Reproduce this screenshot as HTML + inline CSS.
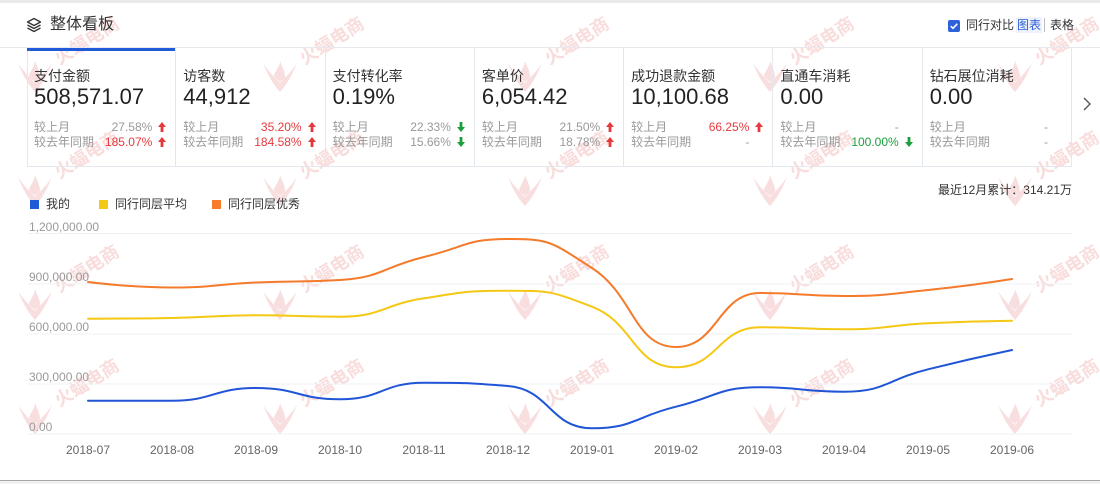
<!DOCTYPE html>
<html><head><meta charset="utf-8">
<style>
*{margin:0;padding:0;box-sizing:border-box}
html,body{width:1100px;height:484px;overflow:hidden;background:#fff}
body{position:relative;font-family:"Liberation Sans","Noto Sans CJK SC",sans-serif;color:#333}
.abs{position:absolute}
.card{position:absolute;top:48px;height:119px;width:149.3px;border-right:1px solid #e3e7ee}
.card .lab{position:absolute;left:7px;top:20px;font-size:14px;line-height:16px;color:#333;white-space:nowrap}
.card .num{position:absolute;left:7px;top:36px;font-size:22px;line-height:26px;color:#222;white-space:nowrap}
.card .r{position:absolute;left:7px;font-size:12px;line-height:15px;color:#999;white-space:nowrap}
.card .v{position:absolute;right:23px;font-size:12px;line-height:15px;color:#999;white-space:nowrap;text-align:right}
.card svg.ar{position:absolute;right:9px;width:8px;height:10px}
.red{color:#e5393e!important}
.green{color:#1a9f3c!important}
.yl{font-size:12px;color:#9a9a9a;line-height:14px;white-space:nowrap}
.xl{font-size:12px;color:#666;line-height:14px;white-space:nowrap;width:60px;text-align:center}
</style></head><body>

<!-- watermark layer -->
<svg class="abs" style="left:0;top:0;z-index:0" width="1100" height="484" viewBox="0 0 1100 484">
<defs>
<g id="wl"><path d="M-17,-14 C-12,-2 -8,6 0,15 C8,6 12,-2 17,-14 C11,-5 6,0 0,5 C-6,0 -11,-5 -17,-14 Z M-6,-2 C-3,-8 0,-12 0,-16 C2,-10 5,-6 5,0 C3,3 1,5 0,6 C-2,4 -5,2 -6,-2 Z" fill="#f8dede"/></g>
</defs>
<g fill="#f9dcdc" font-family="Liberation Sans,Noto Sans CJK SC,sans-serif" font-size="18" font-weight="bold" text-anchor="middle">
<use href="#wl" x="35" y="77"/><use href="#wl" x="280" y="77"/><use href="#wl" x="525" y="77"/><use href="#wl" x="770" y="77"/><use href="#wl" x="1015" y="77"/>
<use href="#wl" x="35" y="191"/><use href="#wl" x="280" y="191"/><use href="#wl" x="525" y="191"/><use href="#wl" x="770" y="191"/><use href="#wl" x="1015" y="191"/>
<use href="#wl" x="35" y="305"/><use href="#wl" x="280" y="305"/><use href="#wl" x="525" y="305"/><use href="#wl" x="770" y="305"/><use href="#wl" x="1015" y="305"/>
<use href="#wl" x="35" y="419"/><use href="#wl" x="280" y="419"/><use href="#wl" x="525" y="419"/><use href="#wl" x="770" y="419"/><use href="#wl" x="1015" y="419"/>
<text transform="translate(90,46) rotate(-32)">火蝠电商</text><text transform="translate(335,46) rotate(-32)">火蝠电商</text><text transform="translate(580,46) rotate(-32)">火蝠电商</text><text transform="translate(825,46) rotate(-32)">火蝠电商</text><text transform="translate(1070,46) rotate(-32)">火蝠电商</text>
<text transform="translate(90,160) rotate(-32)">火蝠电商</text><text transform="translate(335,160) rotate(-32)">火蝠电商</text><text transform="translate(580,160) rotate(-32)">火蝠电商</text><text transform="translate(825,160) rotate(-32)">火蝠电商</text><text transform="translate(1070,160) rotate(-32)">火蝠电商</text>
<text transform="translate(90,274) rotate(-32)">火蝠电商</text><text transform="translate(335,274) rotate(-32)">火蝠电商</text><text transform="translate(580,274) rotate(-32)">火蝠电商</text><text transform="translate(825,274) rotate(-32)">火蝠电商</text><text transform="translate(1070,274) rotate(-32)">火蝠电商</text>
<text transform="translate(90,388) rotate(-32)">火蝠电商</text><text transform="translate(335,388) rotate(-32)">火蝠电商</text><text transform="translate(580,388) rotate(-32)">火蝠电商</text><text transform="translate(825,388) rotate(-32)">火蝠电商</text><text transform="translate(1070,388) rotate(-32)">火蝠电商</text>
</g>
</svg>

<div style="position:absolute;left:0;top:0;width:1100px;height:484px;z-index:1;overflow:hidden">
<!-- top band -->
<div class="abs" style="left:0;top:0;width:1100px;height:3px;background:#e9e9ec"></div>
<!-- header -->
<svg class="abs" style="left:26px;top:17px" width="16" height="16" viewBox="0 0 16 16" fill="none" stroke="#333" stroke-width="1.3" stroke-linejoin="round">
<path d="M8,1.5 L14.5,5 L8,8.5 L1.5,5 Z"/><path d="M1.5,8 L8,11.5 L14.5,8"/><path d="M1.5,11 L8,14.5 L14.5,11"/>
</svg>
<div class="abs" style="left:50px;top:15px;font-size:16px;line-height:20px;color:#333">整体看板</div>

<div class="abs" style="left:948px;top:20px;width:12px;height:12px;border-radius:2px;background:#2d62d9"></div>
<svg class="abs" style="left:948px;top:20px" width="12" height="12" viewBox="0 0 12 12"><path d="M2.8,6.2 L5,8.3 L9.3,3.8" fill="none" stroke="#fff" stroke-width="1.6"/></svg>
<div class="abs" style="left:966px;top:18px;font-size:12px;line-height:15px;color:#333">同行对比</div>
<div class="abs" style="left:1016px;top:17px;font-size:12px;line-height:16px;color:#2b5fd6;background:#eef2fc;padding:0 1px">图表</div>
<div class="abs" style="left:1044px;top:18px;width:1px;height:14px;background:#bbb"></div>
<div class="abs" style="left:1050px;top:18px;font-size:12px;line-height:15px;color:#333">表格</div>

<div class="abs" style="left:0;top:47px;width:1100px;height:1px;background:#e6e8ec"></div>

<!-- cards -->
<div class="abs" style="left:27px;top:48px;width:1045px;height:119px;border-left:1px solid #e3e7ee;border-bottom:1px solid #e3e7ee"></div>
<div class="abs" style="left:27px;top:48px;width:149px;height:3px;background:#1f5bd9"></div>

<div class="card" style="left:27px">
 <div class="lab">支付金额</div><div class="num">508,571.07</div>
 <div class="r" style="top:71.5px">较上月</div><div class="v" style="top:71.5px">27.58%</div>
 <svg class="ar" style="top:74px" viewBox="0 0 8 10"><path d="M4,0 L8,5 L5.4,5 L5.4,10 L2.6,10 L2.6,5 L0,5 Z" fill="#e5393e"/></svg>
 <div class="r" style="top:86.5px">较去年同期</div><div class="v red" style="top:86.5px">185.07%</div>
 <svg class="ar" style="top:89px" viewBox="0 0 8 10"><path d="M4,0 L8,5 L5.4,5 L5.4,10 L2.6,10 L2.6,5 L0,5 Z" fill="#e5393e"/></svg>
</div>
<div class="card" style="left:176.3px">
 <div class="lab">访客数</div><div class="num">44,912</div>
 <div class="r" style="top:71.5px">较上月</div><div class="v red" style="top:71.5px">35.20%</div>
 <svg class="ar" style="top:74px" viewBox="0 0 8 10"><path d="M4,0 L8,5 L5.4,5 L5.4,10 L2.6,10 L2.6,5 L0,5 Z" fill="#e5393e"/></svg>
 <div class="r" style="top:86.5px">较去年同期</div><div class="v red" style="top:86.5px">184.58%</div>
 <svg class="ar" style="top:89px" viewBox="0 0 8 10"><path d="M4,0 L8,5 L5.4,5 L5.4,10 L2.6,10 L2.6,5 L0,5 Z" fill="#e5393e"/></svg>
</div>
<div class="card" style="left:325.6px">
 <div class="lab">支付转化率</div><div class="num">0.19%</div>
 <div class="r" style="top:71.5px">较上月</div><div class="v" style="top:71.5px">22.33%</div>
 <svg class="ar" style="top:74px" viewBox="0 0 8 10"><path d="M4,10 L8,5 L5.4,5 L5.4,0 L2.6,0 L2.6,5 L0,5 Z" fill="#1a9f3c"/></svg>
 <div class="r" style="top:86.5px">较去年同期</div><div class="v" style="top:86.5px">15.66%</div>
 <svg class="ar" style="top:89px" viewBox="0 0 8 10"><path d="M4,10 L8,5 L5.4,5 L5.4,0 L2.6,0 L2.6,5 L0,5 Z" fill="#1a9f3c"/></svg>
</div>
<div class="card" style="left:474.9px">
 <div class="lab">客单价</div><div class="num">6,054.42</div>
 <div class="r" style="top:71.5px">较上月</div><div class="v" style="top:71.5px">21.50%</div>
 <svg class="ar" style="top:74px" viewBox="0 0 8 10"><path d="M4,0 L8,5 L5.4,5 L5.4,10 L2.6,10 L2.6,5 L0,5 Z" fill="#e5393e"/></svg>
 <div class="r" style="top:86.5px">较去年同期</div><div class="v" style="top:86.5px">18.78%</div>
 <svg class="ar" style="top:89px" viewBox="0 0 8 10"><path d="M4,0 L8,5 L5.4,5 L5.4,10 L2.6,10 L2.6,5 L0,5 Z" fill="#e5393e"/></svg>
</div>
<div class="card" style="left:624.1px">
 <div class="lab">成功退款金额</div><div class="num">10,100.68</div>
 <div class="r" style="top:71.5px">较上月</div><div class="v red" style="top:71.5px">66.25%</div>
 <svg class="ar" style="top:74px" viewBox="0 0 8 10"><path d="M4,0 L8,5 L5.4,5 L5.4,10 L2.6,10 L2.6,5 L0,5 Z" fill="#e5393e"/></svg>
 <div class="r" style="top:86.5px">较去年同期</div><div class="v" style="top:86.5px">-</div>
</div>
<div class="card" style="left:773.4px">
 <div class="lab">直通车消耗</div><div class="num">0.00</div>
 <div class="r" style="top:71.5px">较上月</div><div class="v" style="top:71.5px">-</div>
 <div class="r" style="top:86.5px">较去年同期</div><div class="v green" style="top:86.5px">100.00%</div>
 <svg class="ar" style="top:89px" viewBox="0 0 8 10"><path d="M4,10 L8,5 L5.4,5 L5.4,0 L2.6,0 L2.6,5 L0,5 Z" fill="#1a9f3c"/></svg>
</div>
<div class="card" style="left:922.7px">
 <div class="lab">钻石展位消耗</div><div class="num">0.00</div>
 <div class="r" style="top:71.5px">较上月</div><div class="v" style="top:71.5px">-</div>
 <div class="r" style="top:86.5px">较去年同期</div><div class="v" style="top:86.5px">-</div>
</div>

<svg class="abs" style="left:1080px;top:96px" width="14" height="16" viewBox="0 0 14 16"><path d="M4,2 L10,8 L4,14" fill="none" stroke="#555" stroke-width="1.4"/></svg>

<!-- legend -->
<div class="abs" style="left:30px;top:200px;width:9px;height:9px;background:#1f5bd9"></div>
<div class="abs" style="left:46px;top:197px;font-size:12px;line-height:15px;color:#333">我的</div>
<div class="abs" style="left:99px;top:200px;width:9px;height:9px;background:#f3c914"></div>
<div class="abs" style="left:115px;top:197px;font-size:12px;line-height:15px;color:#333">同行同层平均</div>
<div class="abs" style="left:212px;top:200px;width:9px;height:9px;background:#f77b2b"></div>
<div class="abs" style="left:228px;top:197px;font-size:12px;line-height:15px;color:#333">同行同层优秀</div>

<div class="abs" style="left:900px;width:172px;text-align:right;top:183px;font-size:12px;line-height:15px;color:#333;white-space:nowrap">最近12月累计：314.21万</div>

<!-- y labels -->
<div class="abs yl" style="left:29px;top:220px">1,200,000.00</div>
<div class="abs yl" style="left:29px;top:270px">900,000.00</div>
<div class="abs yl" style="left:29px;top:320px">600,000.00</div>
<div class="abs yl" style="left:29px;top:370px">300,000.00</div>
<div class="abs yl" style="left:29px;top:420px">0.00</div>

<!-- x labels -->
<div class="abs xl" style="left:58px;top:443px">2018-07</div>
<div class="abs xl" style="left:142px;top:443px">2018-08</div>
<div class="abs xl" style="left:226px;top:443px">2018-09</div>
<div class="abs xl" style="left:310px;top:443px">2018-10</div>
<div class="abs xl" style="left:394px;top:443px">2018-11</div>
<div class="abs xl" style="left:478px;top:443px">2018-12</div>
<div class="abs xl" style="left:562px;top:443px">2019-01</div>
<div class="abs xl" style="left:646px;top:443px">2019-02</div>
<div class="abs xl" style="left:730px;top:443px">2019-03</div>
<div class="abs xl" style="left:814px;top:443px">2019-04</div>
<div class="abs xl" style="left:898px;top:443px">2019-05</div>
<div class="abs xl" style="left:982px;top:443px">2019-06</div>

<!-- chart -->
<svg class="abs" style="left:0;top:0" width="1100" height="484" viewBox="0 0 1100 484">
<g stroke="#eef0f5" stroke-width="1">
<line x1="28" y1="233.5" x2="1072" y2="233.5"/>
<line x1="28" y1="284" x2="1072" y2="284"/>
<line x1="28" y1="334" x2="1072" y2="334"/>
<line x1="28" y1="384" x2="1072" y2="384"/>
<line x1="28" y1="434" x2="1072" y2="434"/>
</g>
<g fill="none" stroke-width="2" stroke-linecap="round" stroke-linejoin="round">
<path stroke="#f5c815" d="M88,318.7 C88,318.7 130,318.7 172,318 C214,317.3 214,315.3 256,315.3 C298,315.3 298,316.7 340,316.7 C382,316.7 382,304.8 424,298.3 C466,291.8 466,290.7 508,290.7 C550,290.7 550,290.7 592,306.7 C634,322.7 634,367.3 676,367.3 C718,367.3 718,327.3 760,327.3 C802,327.3 802,329.3 844,329.3 C886,329.3 886,325.45 928,323.3 C970,321.15 1012,320.7 1012,320.7"/>
<path stroke="#f47a2c" d="M88,282 C88,282 130,287.5 172,287.5 C214,287.5 214,284.375 256,282.5 C298,280.625 298,282.5 340,280 C382,277.5 382,267.25 424,257 C466,246.75 466,239 508,239 C550,239 550,241 592,268 C634,295 634,347 676,347 C718,347 718,293 760,293 C802,293 802,296 844,296 C886,296 886,294.25 928,290 C970,285.75 1012,279 1012,279"/>
<path stroke="#1f55d6" d="M88,400.7 C88,400.7 130,400.7 172,400.7 C214,400.7 214,388 256,388 C298,388 298,399.3 340,399.3 C382,399.3 382,382.7 424,382.7 C466,382.7 466,382.7 508,386 C550,389.3 550,428.3 592,428.3 C634,428.3 634,416.95 676,406.7 C718,396.45 718,387.3 760,387.3 C802,387.3 802,391.7 844,391.7 C886,391.7 886,379.725 928,369.3 C970,358.875 1012,350 1012,350"/>
</g>
</svg>

<!-- bottom edge -->
<div class="abs" style="left:0;top:480px;width:1100px;height:1px;background:#a8a8a8"></div>
<div class="abs" style="left:0;top:481px;width:1100px;height:3px;background:#f1f1f1"></div>
</div>
</body></html>
